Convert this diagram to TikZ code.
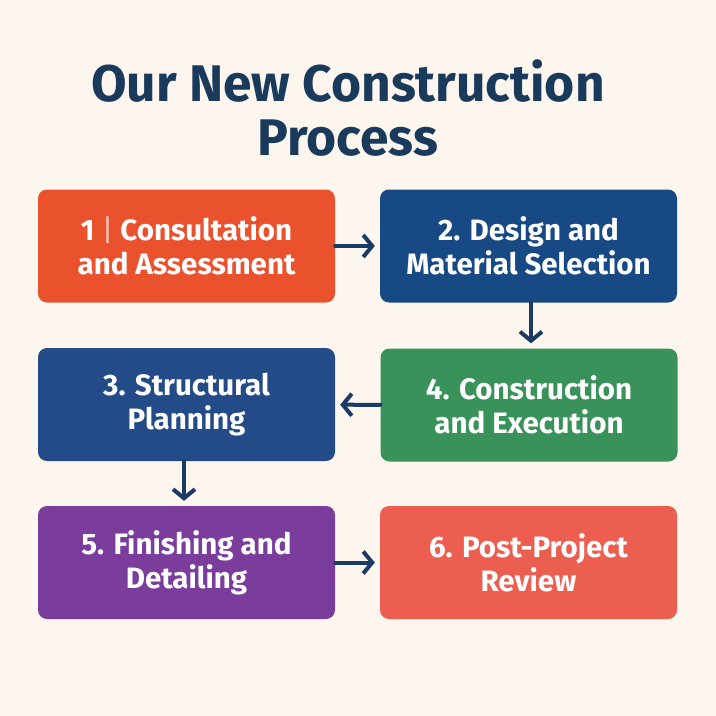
\documentclass[tikz,border=0pt]{standalone}
\usepackage{fontspec}
\setmainfont{Fira Sans}
\usetikzlibrary{arrows.meta}
\definecolor{bg}{HTML}{FCF6EE}
\definecolor{titlec}{HTML}{1A3A5C}
\definecolor{arrowc}{HTML}{1C3A66}
\definecolor{cA}{HTML}{E9522D}
\definecolor{cB}{HTML}{174A84}
\definecolor{cC}{HTML}{234B87}
\definecolor{cD}{HTML}{3A925B}
\definecolor{cE}{HTML}{7A3D9C}
\definecolor{cF}{HTML}{EC5E4F}
\tikzset{
  stepbox/.style={rounded corners=9pt, minimum width=297pt, minimum height=113pt,
    text=white, align=center, font=\fontsize{29.5}{34}\selectfont\bfseries, inner sep=0pt},
  flow/.style={draw=arrowc, line width=4pt, line cap=round, line join=round,
    -{Straight Barb[length=9pt,width=22pt,line width=4pt]}, shorten >=5pt}
}
\begin{document}
\begin{tikzpicture}[x=1pt,y=-1pt]
\fill[bg] (0,0) rectangle (716,716);
\useasboundingbox (0,0) rectangle (716,716);
\node[text=titlec, align=center, font=\fontsize{51.5}{54}\selectfont\bfseries] (title) at (348,108) {Our New Construction\\Process};
\node[stepbox, fill=cA] (s1) at (186.5,246) {1 {\color{white!65!cA}\fontseries{l}\selectfont|} Consultation\\and Assessment};
\node[stepbox, fill=cB] (s2) at (528.5,246) {2. Design and\\Material Selection};
\node[stepbox, fill=cC] (s3) at (186.5,404.5) {3. Structural\\Planning};
\node[stepbox, fill=cD] (s4) at (529,405) {4. Construction\\and Execution};
\node[stepbox, fill=cE] (s5) at (186.5,562.5) {5. Finishing and\\Detailing};
\node[stepbox, fill=cF] (s6) at (528.5,562.5) {6. Post-Project\\Review};
\draw[flow] (s1) -- (s2);
\draw[flow] (s2.south -| 531,0) -- (s4.north -| 531,0);
\draw[flow] (s4) -- (s3);
\draw[flow] (s3.south -| 184,0) -- (s5.north -| 184,0);
\draw[flow] (s5) -- (s6);
\end{tikzpicture}
\end{document}
